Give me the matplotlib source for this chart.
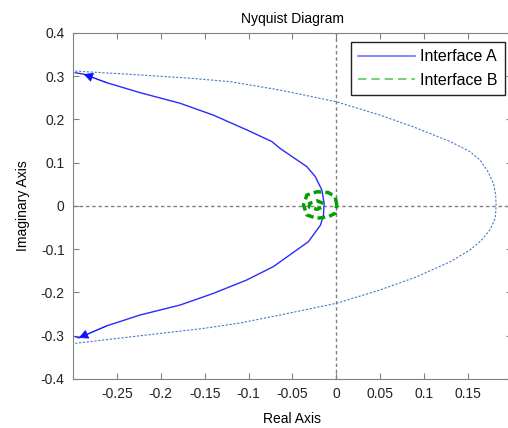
import numpy as np
import matplotlib
matplotlib.use("Agg")
import matplotlib.pyplot as plt
from matplotlib.lines import Line2D

plt.rcParams['font.family'] = ['Liberation Sans', 'DejaVu Sans']

# Interface A, solid branch (real, imag)
a_re = [-0.2975, -0.288, -0.2614, -0.2235, -0.178, -0.140, -0.102, -0.0735, -0.064,
        -0.0336, -0.024, -0.0165, -0.0139, -0.0147, -0.018, -0.0318, -0.0716,
        -0.102, -0.140, -0.178, -0.2235, -0.2614, -0.2935, -0.2975]
a_im = [0.308, 0.305, 0.285, 0.262, 0.2375, 0.210, 0.176, 0.149, 0.133,
        0.091, 0.068, 0.037, 0.006, -0.021, -0.044, -0.0825, -0.140,
        -0.171, -0.202, -0.229, -0.252, -0.277, -0.305, -0.302]

# Interface A, mirrored (dotted) branch
ad_re = [-0.2975, -0.2235, -0.17, -0.121, -0.064, 0.0, 0.05, 0.0878, 0.1296, 0.152,
         0.1638, 0.172, 0.179, 0.1815, 0.182, 0.181, 0.175, 0.165, 0.152, 0.1296,
         0.0917, 0.05, 0.0, -0.064, -0.1096, -0.151, -0.2235, -0.2975]
ad_im = [0.312, 0.303, 0.296, 0.2875, 0.268, 0.241, 0.21, 0.183, 0.149, 0.126,
         0.106, 0.082, 0.052, 0.026, 0.0, -0.028, -0.055, -0.08, -0.102, -0.129,
         -0.1635, -0.194, -0.225, -0.252, -0.2705, -0.283, -0.300, -0.3175]

# Interface B, small loop near the origin (outer and inner part)
b_out_re = [0.0006, -0.0014, -0.009, -0.022, -0.0336, -0.0375, -0.0336, -0.022, -0.009, -0.0014, 0.0006]
b_out_im = [0.0023, 0.0215, 0.031, 0.033, 0.0254, 0.0023, -0.0208, -0.0285, -0.0247, -0.017, 0.0023]
b_in_re = [-0.0147, -0.022, -0.0306, -0.0306, -0.022, -0.0147]
b_in_im = [0.006, 0.012, 0.006, -0.003, -0.0077, -0.0015]

xticks = [-0.25, -0.2, -0.15, -0.1, -0.05, 0, 0.05, 0.1, 0.15]
xlabels = ['-0.25', '-0.2', '-0.15', '-0.1', '-0.05', '0', '0.05', '0.1', '0.15']
yticks = [-0.4, -0.3, -0.2, -0.1, 0, 0.1, 0.2, 0.3, 0.4]
ylabels = ['-0.4', '-0.3', '-0.2', '-0.1', '0', '0.1', '0.2', '0.3', '0.4']

fig = plt.figure(figsize=(5.08, 4.28), dpi=100)
ax = fig.add_axes([0.1437, 0.1145, 0.864, 0.8084])

ax.axhline(0, color='#808080', lw=1, ls=(0, (2.5, 2)), zorder=1)
ax.axvline(0, color='#808080', lw=1, ls=(0, (2.5, 2)), zorder=1)

ax.plot(ad_re, ad_im, color='#4a78cc', lw=0.8, ls=(0, (2, 1.5)), zorder=2)
ax.plot(a_re, a_im, color='#2a2aff', lw=1.0, zorder=3)
ax.plot(b_out_re, b_out_im, color='#00a000', lw=2.5, ls=(0, (2.2, 1.2)), zorder=4)
ax.plot(b_in_re, b_in_im, color='#00a000', lw=2.5, ls=(0, (2.2, 1.2)), zorder=4)

# direction arrows on the solid branch
for i0, i1 in [(2, 1), (21, 22)]:
    ax.annotate('', xy=(a_re[i1], a_im[i1]), xytext=(a_re[i0], a_im[i0]),
                arrowprops=dict(arrowstyle='-|>', color='#1010ff', lw=0.5,
                                mutation_scale=15, shrinkA=0, shrinkB=0), zorder=5)

ax.set_xlim(-0.3, 0.2)
ax.set_ylim(-0.4, 0.4)
ax.set_xticks(xticks)
ax.set_xticklabels(xlabels)
ax.set_yticks(yticks)
ax.set_yticklabels(ylabels)
ax.tick_params(direction='in', length=4, width=0.8, color='#808080',
               labelsize=10, labelcolor='#222222', top=True, right=True, pad=6)
for s in ax.spines.values():
    s.set_color('#808080')

ax.set_title('Nyquist Diagram', fontsize=10, pad=7)
ax.set_xlabel('Real Axis', fontsize=10, labelpad=8)
ax.set_ylabel('Imaginary Axis', fontsize=10, labelpad=8)

handles = [Line2D([], [], color='#7070ff', lw=1.2),
           Line2D([], [], color='#60c860', lw=1.2, ls=(0, (5, 3)))]
leg = ax.legend(handles, ['Interface A', 'Interface B'], loc='upper right',
                bbox_to_anchor=(0.984, 0.974), borderaxespad=0, fontsize=11.5,
                fancybox=False, framealpha=1, edgecolor='#222222', handlelength=3.6,
                borderpad=0.45, labelspacing=0.55, handletextpad=0.3)
leg.get_frame().set_linewidth(1.0)

fig.savefig('out.png', dpi=100)
